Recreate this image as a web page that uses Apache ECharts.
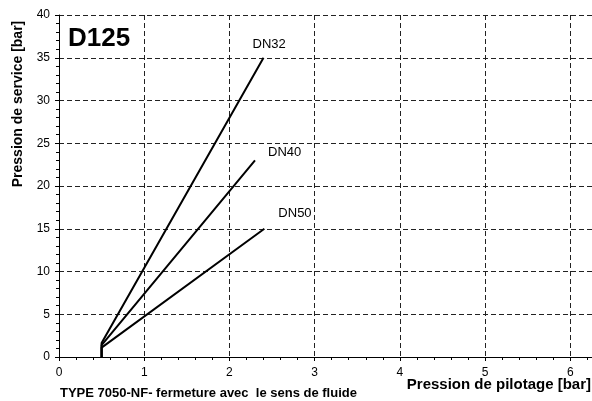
<!DOCTYPE html>
<html>
  <head>
    <meta charset="utf-8" />
    <title>D125 - Pression de service / pilotage</title>
    <script src="https://cdn.jsdelivr.net/npm/echarts@6/dist/echarts.min.js"></script>
    <style>
      * {
        padding: 0;
        margin: 0;
      }
      #chart-panel {
        width: 592px;
        height: 401px;
        background: #fff;
      }
    </style>
  </head>
  <body>
    <div id="chart-panel"></div>
    <script type="text/javascript">
      var myChart = echarts.init(document.getElementById("chart-panel"));

      // courbes : [pression de pilotage, pression de service]
      const seriesNames = ["DN32", "DN40", "DN50"];
      const dn32 = [[0.5, 0], [0.5, 1.65], [2.4, 35]];
      const dn40 = [[0.5, 0], [0.5, 1.4], [2.3, 23]];
      const dn50 = [[0.5, 0], [0.5, 1.1], [2.41, 15]];
      const xTicks = [0, 1, 2, 3, 4, 5, 6];
      const yTicks = [0, 5, 10, 15, 20, 25, 30, 35, 40];

      const font = "Liberation Sans, Arial, sans-serif";
      const gridLine = { show: true, lineStyle: { color: "#222", type: [5, 3], width: 1 } };

      // position des étiquettes DN par rapport à la fin de chaque courbe
      const labelOffsets = [[-19, -13], [5, -8], [6, -15]];

      function makeLine(name, data, i) {
        return {
          name: name,
          type: "line",
          data: data,
          symbol: "none",
          animation: false,
          lineStyle: { color: "#000", width: 2 },
          endLabel: {
            show: true,
            formatter: name,
            color: "#000",
            fontFamily: font,
            fontSize: 13,
            offset: labelOffsets[i],
          },
        };
      }

      var option = {
        backgroundColor: "#fff",
        animation: false,
        // l'axe x continue au-delà du bord droit de l'image (jusqu'à 7)
        grid: { left: 59, top: 15, width: 596.5, bottom: 44, outerBoundsMode: "none" },
        xAxis: {
          type: "value",
          min: 0,
          max: 7,
          interval: 1,
          axisLine: { show: true, onZero: false, lineStyle: { color: "#000", width: 1 } },
          axisTick: { show: true, length: 4, lineStyle: { color: "#000" } },
          minorTick: { show: true, splitNumber: 5, length: 3, lineStyle: { color: "#000" } },
          splitLine: gridLine,
          axisLabel: {
            color: "#000",
            fontFamily: font,
            fontSize: 12,
            margin: 10,
            formatter: function (v) {
              return xTicks.indexOf(v) >= 0 ? String(v) : "";
            },
          },
        },
        yAxis: {
          type: "value",
          min: 0,
          max: 40,
          interval: 5,
          axisLine: { show: true, onZero: false, lineStyle: { color: "#000", width: 1 } },
          axisTick: { show: true, length: 4, lineStyle: { color: "#000" } },
          minorTick: { show: true, splitNumber: 5, length: 3, lineStyle: { color: "#000" } },
          splitLine: gridLine,
          axisLabel: {
            color: "#000",
            fontFamily: font,
            fontSize: 12,
            margin: 9,
            formatter: function (v) {
              return yTicks.indexOf(v) >= 0 ? String(v) : "";
            },
          },
        },
        graphic: [
          {
            type: "text",
            left: 68,
            top: 26,
            style: { text: "D125", font: "bold 26px " + font, fill: "#000" },
          },
          {
            type: "text",
            x: 18,
            y: 104,
            rotation: Math.PI / 2,
            style: {
              text: "Pression de service [bar]",
              font: "bold 14px " + font,
              fill: "#000",
              textAlign: "center",
              textVerticalAlign: "middle",
            },
          },
          {
            type: "text",
            x: 591,
            y: 385,
            style: {
              text: "Pression de pilotage [bar]",
              font: "bold 15px " + font,
              fill: "#000",
              textAlign: "right",
              textVerticalAlign: "middle",
            },
          },
          {
            type: "text",
            x: 60,
            y: 393,
            style: {
              text: "TYPE 7050-NF- fermeture avec  le sens de fluide",
              font: "bold 13px " + font,
              fill: "#000",
              textAlign: "left",
              textVerticalAlign: "middle",
            },
          },
        ],
        series: [
          makeLine(seriesNames[0], dn32, 0),
          makeLine(seriesNames[1], dn40, 1),
          makeLine(seriesNames[2], dn50, 2),
        ],
      };

      myChart.setOption(option);
    </script>
  </body>
</html>
